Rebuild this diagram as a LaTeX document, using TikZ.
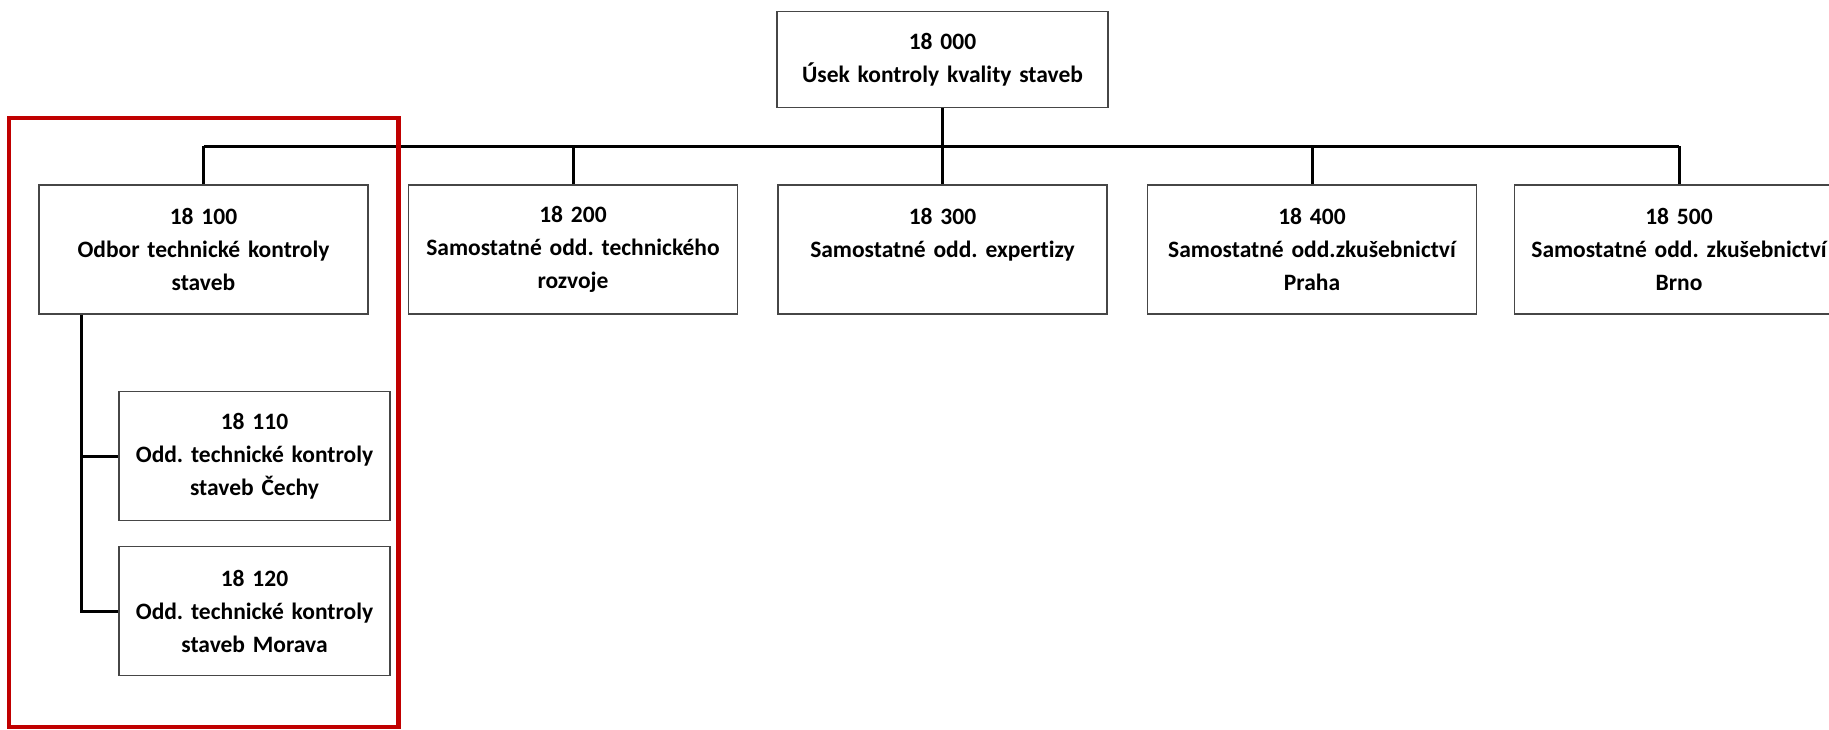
\documentclass[tikz,border=0pt]{standalone}
\usepackage{fontspec}
\setmainfont{Carlito}[WordSpace=0.85,Ligatures=NoCommon]
\frenchspacing
\usetikzlibrary{calc}
\definecolor{framered}{RGB}{192,0,0}
\definecolor{boxgray}{RGB}{70,70,70}

\begin{document}
\begin{tikzpicture}[x=0.5pt,y=-0.5pt,
      nodes={font=\bfseries\fontsize{11.75}{16.5}\selectfont, align=center, inner sep=0pt},
      unitbox/.style={rectangle,draw=boxgray,line width=0.9pt,minimum width=164.5pt,minimum height=64.5pt,text width=160pt},
      topbox/.style={unitbox,minimum width=165.5pt,minimum height=48pt},
      subbox/.style={unitbox,minimum width=135.5pt,text width=132pt},
      link/.style={line width=1.5pt}]
    \useasboundingbox (0,0) rectangle (1829,729);
    \node[topbox](usek) at (942.5,59.5){18 000\\Úsek kontroly kvality staveb};
    \node[unitbox,below of=usek,node distance=95pt](o300){18 300\\Samostatné odd. expertizy\\~};
    \node[unitbox,left of=o300,node distance=184.75pt](o200){18 200\\Samostatné odd. technického\\rozvoje};
    \node[unitbox,left of=o200,node distance=184.75pt](o100){18 100\\Odbor technické kontroly\\staveb};
    \node[unitbox,right of=o300,node distance=184.75pt](o400){18 400\\Samostatné odd.zkušebnictví\\Praha};
    \node[unitbox,right of=o400,node distance=183.5pt](o500){18 500\\Samostatné odd. zkušebnictví\\Brno};

    \node[subbox,below of=o100,node distance=103.25pt,xshift=25.5pt](o110){18 110\\Odd. technické kontroly\\staveb Čechy};
    \node[subbox,below of=o110,node distance=77.5pt](o120){18 120\\Odd. technické kontroly\\staveb Morava};

    \coordinate (bus) at ($(usek.south)!0.5!(o300.north)$);
    \draw[link] (usek.south) -- (o300.north);
    \draw[link] (o100.north |- bus) -- (o500.north |- bus);
    \foreach \n in {o100,o200,o400,o500}
      \draw[link] (\n.north) -- (\n.north |- bus);

    \coordinate (trunk) at ([xshift=21.5pt]o100.south west);
    \draw[link] (trunk) |- (o110.west);
    \draw[link] (trunk) |- (o120.west);

    \draw[framered,line width=2.25pt] (9,118) rectangle (398.5,727);
\end{tikzpicture}
\end{document}
